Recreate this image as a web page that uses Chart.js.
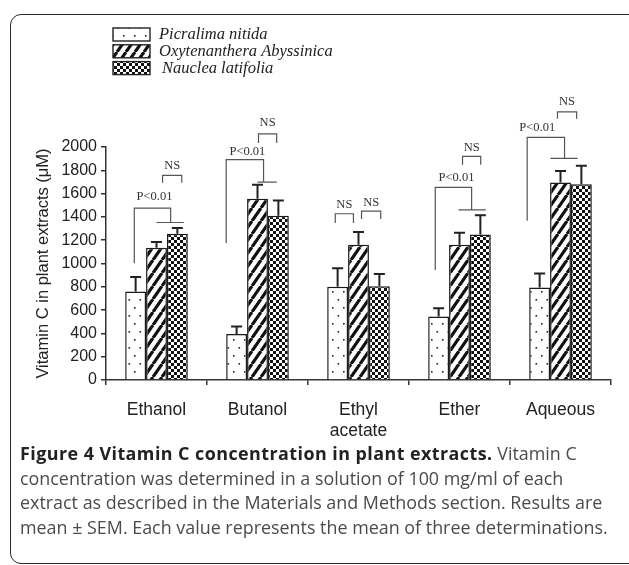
<!DOCTYPE html>
<html>
<head>
<meta charset="utf-8">
<script src="https://cdn.jsdelivr.net/npm/chart.js@4.4.1/dist/chart.umd.min.js"></script>
<style>
  html, body { margin: 0; padding: 0; background: #fff; width: 629px; height: 565px; overflow: hidden; }
  #frame { position: absolute; left: 10px; top: 14px; width: 640px; height: 548px; border: 1.5px solid #2a2a2a; border-radius: 11px; }
  #wrap { position: absolute; left: 0; top: 0; width: 629px; height: 450px; }
  #caption { position: absolute; left: 20px; top: 441px; font-family: "Open Sans", sans-serif; font-size: 17.9px; line-height: 24.5px; color: #4a4a4a; white-space: nowrap; }
  #caption b { color: #222; letter-spacing: 0.45px; }
</style>
</head>
<body>
<div id="frame"></div>
<div id="wrap"><canvas id="chart" width="629" height="450"></canvas></div>
<div id="caption"><b>Figure 4 Vitamin C concentration in plant extracts.</b> Vitamin C<br>concentration was determined in a solution of 100 mg/ml of each<br>extract as described in the Materials and Methods section. Results are<br>mean ± SEM. Each value represents the mean of three determinations.</div>

<script>
// ---- data ----
const categories = ['Ethanol', 'Butanol', ['Ethyl', 'acetate'], 'Ether', 'Aqueous'];
const seriesNames = ['Picralima nitida', 'Oxytenanthera Abyssinica', 'Nauclea latifolia'];

const picralima = [760, 395, 800, 545, 795];
const picralimaSem = [125, 65, 160, 70, 120];
const oxytenanthera = [1135, 1555, 1160, 1160, 1695];
const oxytenantheraSem = [50, 120, 110, 105, 100];
const nauclea = [1255, 1410, 805, 1250, 1680];
const naucleaSem = [50, 130, 105, 165, 160];

const yTicks = [0, 200, 400, 600, 800, 1000, 1200, 1400, 1600, 1800, 2000];

// significance marks, x as category index + fraction of a category, y in µM
const forks = [
  { cat: 0, left: -0.22, right: 0.14, from: 0.0, to: 0.27, low: 1003, top: 1476, join: 1352, tx: -0.02, ty: 1575 },
  { cat: 1, left: -0.31, right: 0.06, from: 0.0, to: 0.19, low: 1175, top: 1891, join: 1699, tx: -0.10, ty: 1962 },
  { cat: 3, left: -0.24, right: 0.12, from: -0.01, to: 0.26, low: 945, top: 1653, join: 1461, tx: -0.03, ty: 1733 },
  { cat: 4, left: -0.33, right: 0.04, from: -0.10, to: 0.17, low: 1367, top: 2083, join: 1902, tx: -0.23, ty: 2163 }
];
const nsMarks = [
  { cat: 0, from: 0.06, to: 0.25, top: 1756, bottom: 1693, ty: 1839 },
  { cat: 1, from: 0.01, to: 0.19, top: 2112, bottom: 2034, ty: 2209 },
  { cat: 2, from: -0.23, to: -0.05, top: 1427, bottom: 1347, ty: 1504 },
  { cat: 2, from: 0.03, to: 0.22, top: 1450, bottom: 1381, ty: 1524 },
  { cat: 3, from: 0.03, to: 0.21, top: 1919, bottom: 1848, ty: 1991 },
  { cat: 4, from: -0.03, to: 0.16, top: 2301, bottom: 2243, ty: 2389 }
];

// ---- fill patterns ----
function makeTile(w, h, draw) {
  const c = document.createElement('canvas');
  c.width = w; c.height = h;
  const g = c.getContext('2d');
  g.fillStyle = '#fff';
  g.fillRect(0, 0, w, h);
  draw(g, w, h);
  return c;
}
const dotTile = makeTile(11, 16, g => {
  g.fillStyle = '#222';
  g.fillRect(2, 3, 1.6, 1.6);
  g.fillRect(7.5, 11, 1.6, 1.6);
});
const hatchTile = makeTile(9, 13, (g, w, h) => {
  g.strokeStyle = '#111';
  g.lineWidth = 3.2;
  g.beginPath();
  for (const dx of [-w, 0, w]) { g.moveTo(dx, h); g.lineTo(dx + w, 0); }
  g.stroke();
});
const checkTile = makeTile(6, 6, g => {
  g.fillStyle = '#111';
  g.fillRect(0, 0, 3, 3);
  g.fillRect(3, 3, 3, 3);
});
const ctx = document.getElementById('chart').getContext('2d');
const fills = [dotTile, hatchTile, checkTile].map(t => ctx.createPattern(t, 'repeat'));
const sems = [picralimaSem, oxytenantheraSem, naucleaSem];

// ---- plugins ----
const errorBars = {
  id: 'errorBars',
  afterDatasetsDraw(chart) {
    const y = chart.scales.y;
    const c = chart.ctx;
    c.save();
    c.strokeStyle = '#222';
    c.lineWidth = 2;
    chart.data.datasets.forEach((ds, i) => {
      chart.getDatasetMeta(i).data.forEach((bar, j) => {
        const top = y.getPixelForValue(ds.data[j] + sems[i][j]);
        c.beginPath();
        c.moveTo(bar.x, bar.y);
        c.lineTo(bar.x, top);
        c.moveTo(bar.x - 5.5, top);
        c.lineTo(bar.x + 5.5, top);
        c.stroke();
      });
    });
    c.restore();
  }
};

const sigMarks = {
  id: 'sigMarks',
  afterDraw(chart) {
    const xs = chart.scales.x, y = chart.scales.y;
    const cw = xs.width / categories.length;
    const px = (cat, f) => xs.getPixelForValue(cat) + f * cw;
    const c = chart.ctx;
    c.save();
    c.strokeStyle = '#555';
    c.lineWidth = 1.2;
    c.fillStyle = '#333';
    c.font = '12.5px "Liberation Serif"';
    c.textAlign = 'center';
    c.textBaseline = 'middle';
    forks.forEach(f => {
      c.beginPath();
      c.moveTo(px(f.cat, f.left), y.getPixelForValue(f.low));
      c.lineTo(px(f.cat, f.left), y.getPixelForValue(f.top));
      c.lineTo(px(f.cat, f.right), y.getPixelForValue(f.top));
      c.lineTo(px(f.cat, f.right), y.getPixelForValue(f.join));
      c.moveTo(px(f.cat, f.from), y.getPixelForValue(f.join));
      c.lineTo(px(f.cat, f.to), y.getPixelForValue(f.join));
      c.stroke();
      c.fillText('P<0.01', px(f.cat, f.tx), y.getPixelForValue(f.ty));
    });
    nsMarks.forEach(n => {
      c.beginPath();
      c.moveTo(px(n.cat, n.from), y.getPixelForValue(n.bottom));
      c.lineTo(px(n.cat, n.from), y.getPixelForValue(n.top));
      c.lineTo(px(n.cat, n.to), y.getPixelForValue(n.top));
      c.lineTo(px(n.cat, n.to), y.getPixelForValue(n.bottom));
      c.stroke();
      c.fillText('NS', px(n.cat, (n.from + n.to) / 2), y.getPixelForValue(n.ty));
    });
    c.restore();
  }
};

const boxLegend = {
  id: 'boxLegend',
  afterDraw(chart) {
    const c = chart.ctx;
    c.save();
    c.font = 'italic 16.5px "Liberation Serif"';
    c.textBaseline = 'middle';
    chart.data.datasets.forEach((ds, i) => {
      const top = 28 + i * 16.8;
      c.fillStyle = ds.backgroundColor;
      c.fillRect(113, top, 37, 13);
      c.strokeStyle = '#222';
      c.lineWidth = 1.4;
      c.strokeRect(113, top, 37, 13);
      c.fillStyle = '#222';
      c.fillText(ds.label, i === 2 ? 162 : 159, top + 7);
    });
    c.restore();
  }
};

const axisColor = '#333';

new Chart(ctx, {
  type: 'bar',
  data: {
    labels: categories,
    datasets: [
      { label: seriesNames[0], data: picralima, backgroundColor: fills[0] },
      { label: seriesNames[1], data: oxytenanthera, backgroundColor: fills[1] },
      { label: seriesNames[2], data: nauclea, backgroundColor: fills[2] }
    ]
  },
  options: {
    responsive: false,
    animation: false,
    datasets: { bar: { borderColor: '#1a1a1a', borderWidth: 1.5, categoryPercentage: 0.62, barPercentage: 1.0 } },
    layout: { padding: { top: 147, right: 18, bottom: 10, left: 0 } },
    plugins: { legend: { display: false }, tooltip: { enabled: false } },
    scales: {
      x: {
        grid: { offset: true, drawOnChartArea: false, tickLength: 5, color: axisColor, lineWidth: 1.5 },
        border: { color: axisColor, width: 1.5 },
        ticks: { font: { family: 'Liberation Sans', size: 17.5 }, color: '#222', padding: 15, maxRotation: 0, autoSkip: false },
        afterFit: s => { s.height = 60; }
      },
      y: {
        min: 0,
        max: 2000,
        afterBuildTicks: s => { s.ticks = yTicks.map(v => ({ value: v })); },
        grid: { drawOnChartArea: false, tickLength: 5, color: axisColor, lineWidth: 1.5 },
        border: { color: axisColor, width: 1.5 },
        ticks: { font: { family: 'Liberation Sans', size: 16 }, color: '#222', padding: 4, callback: v => String(v) },
        title: { display: true, text: 'Vitamin C in plant extracts (μM)', color: '#222', font: { family: 'Liberation Sans', size: 16.5 }, padding: { top: 34 } },
        afterFit: s => { s.width = 106; }
      }
    }
  },
  plugins: [errorBars, sigMarks, boxLegend]
});
</script>
</body>
</html>
